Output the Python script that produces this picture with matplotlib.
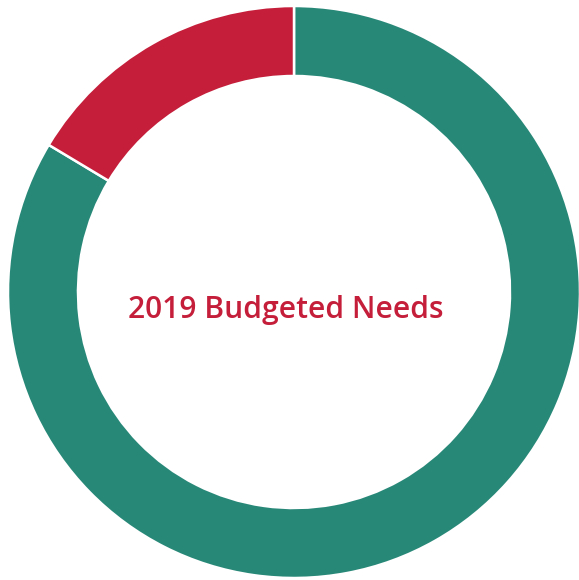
import matplotlib
matplotlib.use("Agg")
import matplotlib.pyplot as plt

labels = ["Other", "Budgeted Needs"]
values = [83.6, 16.4]
colors = ["#288878", "#C41E3A"]
title = "2019 Budgeted Needs"

fig = plt.figure(figsize=(5.79, 5.80), dpi=100)
ax = fig.add_axes([0, 0, 1, 1])
R = 286.0
cx, cy = 294.0, 288.0  # center in pixels from bottom-left
ax.pie(values, colors=colors, startangle=90, counterclock=False, radius=1.0,
       wedgeprops=dict(width=70/286, edgecolor="white", linewidth=1.8))
ax.set_xlim(-cx / R, (579 - cx) / R)
ax.set_ylim(-cy / R, (580 - cy) / R)
ax.set_aspect("auto")
ax.axis("off")
ax.text(-8 / R, -(310 - 292) / R, title, ha="center", va="center", color="#C41E3A",
        fontsize=21.6, fontweight="semibold", family=["Open Sans", "DejaVu Sans"])
fig.savefig("out.png", dpi=100)
